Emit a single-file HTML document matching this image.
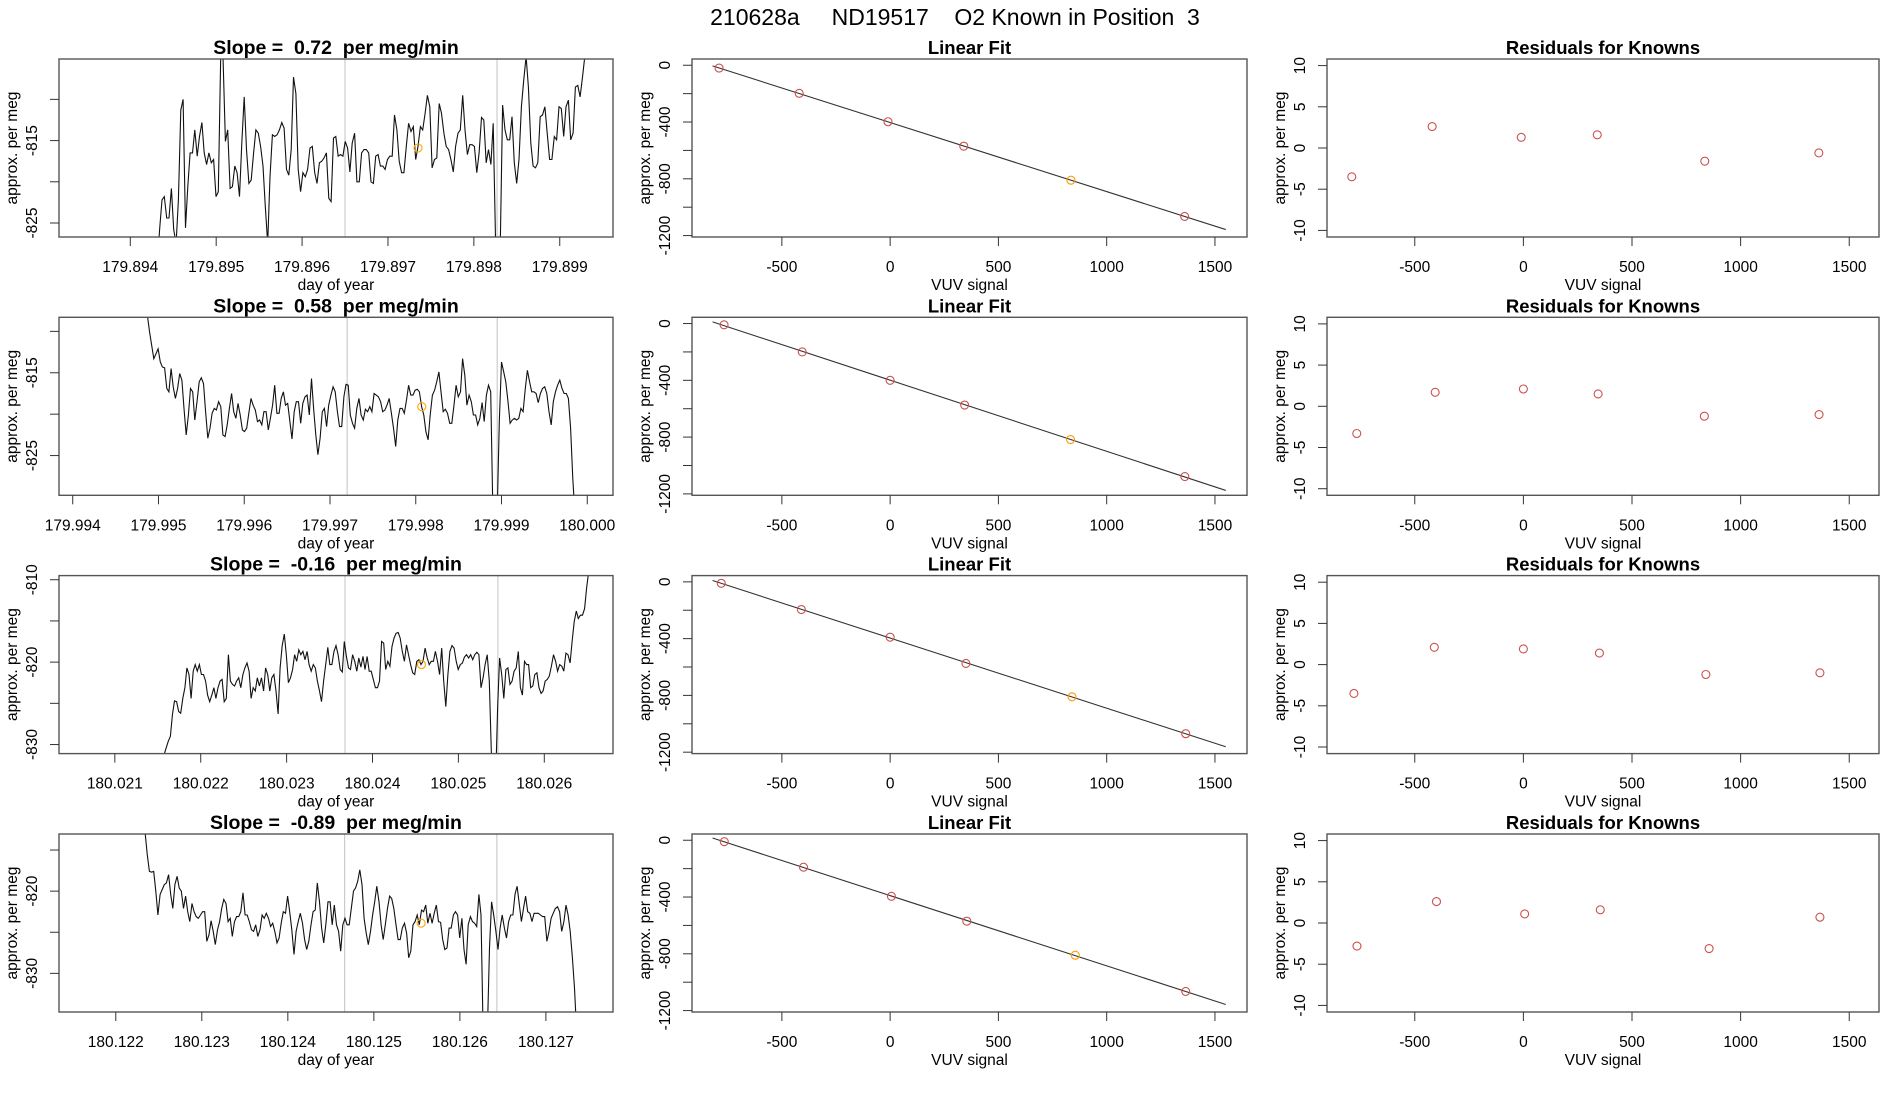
<!DOCTYPE html>
<html><head><meta charset="utf-8"><style>
html,body{margin:0;padding:0;background:#fff;}
svg{display:block;font-family:"Liberation Sans",Arial,sans-serif;}
</style></head><body>
<svg id="fig" width="1900" height="1100" viewBox="0 0 1900 1100" xmlns="http://www.w3.org/2000/svg">
<rect x="0" y="0" width="1900" height="1100" fill="#fff"/>
<text x="955" y="25" font-size="23" text-anchor="middle" style="white-space:pre" xml:space="preserve">210628a     ND19517    O2 Known in Position  3</text>
</svg>
<script>
// ---- time-series data (per meg), one array per row ----
const series1Values=[-830,-825.8,-822.2,-821.8,-824.4,-824.4,-820.8,-825.8,-827.5,-822.2,-811.3,-810.0,-825.6,-820.6,-816.5,-816.5,-813.7,-816.9,-814.5,-812.8,-816.5,-817.9,-816.5,-817.7,-817.3,-821.8,-821.2,-804.8,-804.8,-815.1,-813.7,-820.8,-820.6,-818.1,-818.9,-821.8,-815.3,-809.7,-816.1,-820.2,-819.8,-816.5,-813.7,-814.1,-815.7,-818.1,-823.0,-827.5,-819.4,-814.3,-814.5,-814.3,-813.7,-812.8,-813.5,-818.5,-819.2,-816.1,-807.3,-809.3,-818.5,-821.2,-818.9,-819.4,-818.5,-815.9,-815.7,-818.9,-820.2,-817.7,-817.5,-817.1,-816.5,-822.0,-822.4,-814.7,-814.5,-816.9,-816.7,-816.9,-815.1,-815.9,-818.8,-815.3,-814.1,-820.0,-820.0,-816.5,-816.1,-816.1,-816.5,-820.0,-820.2,-816.9,-816.7,-818.1,-818.1,-818.5,-817.3,-816.9,-816.9,-811.9,-813.7,-817.5,-818.9,-818.9,-815.7,-812.9,-813.9,-813.3,-817.3,-815.7,-813.3,-813.7,-811.7,-809.5,-810.9,-818.3,-817.3,-817.1,-810.5,-811.7,-814.1,-815.7,-816.1,-817.3,-818.8,-815.7,-814.1,-813.7,-809.5,-813.7,-816.7,-815.5,-815.5,-815.7,-818.9,-816.5,-812.2,-812.5,-817.7,-816.1,-817.9,-812.9,-827.5,-827.5,-827.5,-810.7,-813.7,-814.9,-814.9,-812.1,-817.7,-820.2,-817.3,-810.9,-807.7,-804.8,-808.5,-815.3,-818.1,-818.3,-817.7,-812.1,-811.9,-810.9,-814.1,-817.3,-817.3,-814.5,-814.9,-810.9,-811.1,-814.5,-810.9,-810.1,-814.9,-814.1,-808.5,-808.3,-809.7,-807.3,-804.8];
const series2Values=[-808.0,-810.0,-811.7,-813.3,-812.7,-812.1,-813.7,-814.3,-814.4,-816.9,-817.3,-814.5,-816.7,-818.1,-816.9,-815.1,-815.9,-819.3,-822.5,-820.1,-816.9,-817.3,-820.7,-818.5,-816.1,-815.6,-816.3,-819.7,-822.9,-821.7,-819.9,-819.3,-819.5,-818.5,-819.1,-822.5,-822.7,-821.3,-819.3,-817.5,-819.7,-820.5,-818.7,-820.1,-821.9,-822.1,-821.7,-819.9,-818.1,-818.9,-819.5,-820.9,-820.7,-821.3,-819.7,-819.7,-821.9,-820.5,-818.9,-816.5,-819.9,-819.9,-818.1,-817.3,-818.9,-818.7,-820.9,-823.0,-819.7,-818.5,-818.5,-821.1,-818.7,-817.9,-817.7,-820.1,-815.7,-819.3,-822.5,-824.9,-822.9,-819.7,-819.3,-821.5,-818.9,-817.7,-816.7,-817.3,-819.7,-821.5,-821.5,-817.9,-816.4,-816.5,-820.1,-821.1,-821.7,-819.3,-818.1,-820.1,-820.7,-819.4,-819.7,-819.1,-819.7,-817.5,-817.7,-817.9,-818.5,-819.7,-819.5,-818.9,-818.1,-819.9,-821.7,-823.9,-820.7,-819.3,-819.3,-819.9,-818.3,-816.5,-817.7,-817.7,-817.1,-817.0,-817.3,-819.1,-820.1,-822.1,-823.1,-820.1,-817.7,-817.1,-816.1,-814.9,-817.3,-819.7,-819.4,-819.9,-821.1,-821.1,-818.9,-816.5,-817.9,-817.3,-813.3,-815.3,-818.9,-817.7,-818.5,-820.1,-820.1,-821.3,-820.5,-818.6,-820.9,-817.7,-816.5,-817.3,-832,-832,-832,-820.9,-813.7,-814.9,-816.1,-818.5,-821.1,-820.7,-820.5,-820.7,-820.5,-819.3,-819.7,-816.9,-814.7,-816.1,-817.3,-817.3,-817.5,-818.6,-817.5,-816.9,-816.7,-817.5,-819.7,-821.3,-818.5,-817.3,-816.5,-815.9,-816.9,-817.5,-817.5,-818.1,-821.7,-827.8,-832];
const series3Values=[-835.2,-833.2,-832.4,-831.2,-830.4,-829.6,-829.0,-826.4,-824.7,-824.8,-826.0,-826.2,-824.4,-823.1,-820.7,-821.5,-824.4,-821.1,-820.3,-821.1,-820.3,-821.5,-821.5,-822.3,-824.0,-824.8,-824.0,-823.1,-824.4,-823.1,-822.3,-822.1,-824.8,-824.4,-819.1,-822.3,-822.7,-822.9,-822.3,-821.9,-823.1,-821.5,-820.7,-820.1,-821.1,-824.4,-823.1,-823.5,-821.9,-822.9,-821.9,-823.5,-820.7,-821.5,-823.5,-821.9,-821.5,-823.5,-826.3,-820.7,-818.0,-816.6,-819.1,-822.5,-821.9,-820.9,-819.1,-819.9,-818.5,-819.1,-818.7,-819.7,-818.7,-820.3,-821.1,-820.3,-820.7,-822.3,-823.5,-824.8,-822.3,-820.3,-818.2,-820.3,-820.3,-818.7,-818.0,-819.1,-820.9,-821.2,-817.5,-819.3,-820.7,-820.9,-819.1,-819.9,-821.1,-819.5,-820.6,-819.3,-820.9,-819.3,-821.1,-821.1,-822.1,-823.1,-823.1,-822.3,-817.5,-817.7,-820.9,-819.9,-820.5,-818.1,-817.1,-816.5,-816.4,-817.1,-818.7,-819.9,-817.9,-819.1,-820.3,-821.3,-821.5,-819.9,-819.7,-820.3,-819.9,-818.3,-819.5,-820.3,-819.9,-819.9,-818.7,-819.9,-821.5,-818.3,-822.3,-825.4,-821.5,-818.7,-818.0,-818.3,-819.9,-820.9,-820.3,-820.1,-819.4,-819.1,-819.5,-819.1,-819.7,-819.1,-818.8,-819.1,-823.1,-821.9,-820.3,-819.1,-822.3,-831.2,-835.2,-835.2,-825.6,-819.5,-821.5,-824.4,-820.9,-820.7,-822.7,-822.3,-821.1,-820.7,-818.7,-823.1,-824.0,-819.9,-820.3,-820.3,-823.1,-822.9,-821.5,-821.3,-823.1,-823.8,-823.5,-822.3,-822.1,-821.7,-820.5,-819.1,-819.9,-821.1,-820.3,-820.5,-821.1,-818.9,-819.1,-820.1,-817.5,-815.1,-813.8,-814.7,-814.3,-814.3,-813.5,-811.0,-809.0];
const series4Values=[-813.0,-815.6,-817.6,-817.7,-817.6,-820.0,-822.9,-820.4,-819.8,-819.2,-819.0,-818.0,-820.4,-822.1,-819.2,-818.2,-819.6,-820.0,-822.1,-820.6,-822.5,-823.7,-821.5,-822.5,-823.1,-823.3,-822.9,-822.5,-822.5,-826.1,-825.3,-823.6,-824.9,-826.5,-824.7,-823.7,-822.1,-821.0,-821.5,-823.7,-823.3,-825.5,-823.7,-823.1,-823.1,-822.5,-820.2,-822.9,-822.9,-823.7,-824.7,-824.9,-824.1,-825.5,-824.7,-822.9,-823.3,-822.7,-823.3,-824.3,-823.9,-824.9,-826.3,-825.7,-823.9,-822.5,-822.7,-820.6,-822.5,-824.7,-827.7,-824.9,-823.7,-822.7,-823.9,-825.9,-827.1,-826.1,-824.1,-822.5,-822.3,-819.0,-821.3,-824.5,-826.3,-824.1,-821.3,-821.3,-824.1,-821.7,-824.1,-824.9,-827.3,-824.1,-823.3,-824.1,-824.1,-822.1,-820.0,-819.6,-818.8,-817.4,-819.2,-823.3,-825.1,-826.5,-824.9,-822.9,-821.3,-819.4,-821.3,-824.1,-825.9,-824.1,-822.1,-820.6,-820.9,-822.1,-824.1,-825.9,-825.9,-824.5,-823.9,-825.1,-828.1,-827.3,-824.1,-823.7,-822.9,-824.1,-822.3,-822.5,-821.7,-823.9,-822.7,-823.9,-822.7,-821.7,-823.7,-823.8,-825.9,-827.1,-826.9,-824.5,-824.5,-822.9,-822.5,-822.9,-825.7,-823.3,-827.1,-828.9,-824.1,-823.1,-823.7,-823.9,-824.3,-820.4,-822.9,-837,-837,-837,-826.9,-821.3,-822.9,-824.9,-827.1,-824.5,-822.9,-824.5,-825.7,-823.7,-822.9,-822.9,-820.4,-819.4,-821.5,-823.7,-822.1,-820.6,-822.5,-822.7,-823.7,-822.7,-822.7,-822.7,-822.9,-823.1,-823.1,-826.1,-824.9,-823.3,-822.7,-822.1,-821.9,-822.5,-824.9,-823.7,-821.7,-822.9,-824.9,-828.1,-831.8,-837];
// time spans (day of year) of each series
const seriesStart=[179.894314,179.994870,180.021502,180.122342];
const seriesEnd=[179.899292,179.999856,180.026517,180.127357];
const slopeValues=["0.72","0.58","-0.16","-0.89"];
const injectionTimes=[[179.8965,179.89827],[179.9972,179.99895],[180.02368,180.02546],[180.12466,180.12643]];
const knownTime=[179.89735,179.99807,180.02457,180.12555];
const knownValue=[-815.9,-819.1,-820.3,-823.9];
const xTickLabels=[["179.894","179.895","179.896","179.897","179.898","179.899"],["179.994","179.995","179.996","179.997","179.998","179.999","180.000"],["180.021","180.022","180.023","180.024","180.025","180.026"],["180.122","180.123","180.124","180.125","180.126","180.127"]];
const yTicksTS=[[-810,-815,-820,-825],[-810,-815,-820,-825],[-810,-815,-820,-825,-830],[-815,-820,-825,-830]];
const yLabelsTS=[[-815,-825],[-815,-825],[-810,-820,-830],[-820,-830]];
// ---- linear fit / residual data ----
const vuvSignal=[[-790,-420,-10,340,835,1360],[-767,-406,0,344,833,1361],[-780,-410,0,350,840,1365],[-766,-400,6,354,855,1365]];
const fitPerMeg=[[-20,-198,-398,-570,-810,-1065],[-9,-200,-400,-574,-817,-1078],[-10,-195,-390,-575,-810,-1070],[-10,-190,-395,-570,-810,-1065]];
const residuals=[[-3.5,2.6,1.3,1.6,-1.6,-0.6],[-3.3,1.7,2.1,1.5,-1.2,-1.0],[-3.5,2.1,1.9,1.4,-1.2,-1.0],[-2.8,2.6,1.1,1.6,-3.1,0.7]];
const vuvTicks=[-500,0,500,1000,1500];
const fitYTicks=[0,-200,-400,-600,-800,-1000,-1200];
const fitYLabels=[0,-400,-800,-1200];
const residTicks=[10,5,0,-5,-10];
const knownIndex=4;

const allSeries=[series1Values,series2Values,series3Values,series4Values];
const svg=document.getElementById('fig');
const NS='http://www.w3.org/2000/svg';
const rowTops=[59,317.3,575.6,834];
const H=178;
const cols=[[59,613],[692,1247],[1327,1879]];
const tsXDom=[[179.89317,179.89962],[179.99384,180.0003],[180.02035,180.0268],[180.12134,180.12778]];
const tsYDom=[[-826.7,-805.1],[-829.8,-808.3],[-831.1,-809.5],[-834.7,-813.05]];
const fitXDom=[-915,1648], fitYDom=[-1210,44];
const resXDom=[-904,1637], resYDom=[-10.8,10.8];

function mk(tag,attrs,parent){const e=document.createElementNS(NS,tag);for(const k in attrs)e.setAttribute(k,attrs[k]);(parent||svg).appendChild(e);return e;}
function scale(d0,d1,r0,r1){return v=>r0+(v-d0)/(d1-d0)*(r1-r0);}
function txt(x,y,s,size,extra,parent){const t=mk('text',Object.assign({x:x,y:y,'font-size':size,'text-anchor':'middle'},extra||{}),parent);t.textContent=s;return t;}

function frame(g,L,R,T,name){
  const r=mk('rect',{x:L,y:T,width:R-L,height:H,fill:'none',stroke:'#555','stroke-width':1.4},g);
  
  
}
function xAxis(g,L,T,ticks,labels,sx,label,name){
  const B=T+H;
  ticks.forEach((v,i)=>{
    const x=sx(v);
    const tk=mk('line',{x1:x,x2:x,y1:B,y2:B+9,stroke:'#333','stroke-width':1},g);
    
    
    const t=txt(x,B+35,labels[i],15.5,{},g);
    
    
  });
  const t=txt((cols[0][0]+cols[0][1])/2,B+53,label,15.5,{},g);
  return t;
}
function yAxis(g,L,T,ticks,labels,sy,name){
  ticks.forEach(v=>{
    const y=sy(v);
    const tk=mk('line',{x1:L-9,x2:L,y1:y,y2:y,stroke:'#333','stroke-width':1},g);
    
    
  });
  labels.forEach(v=>{
    const y=sy(v);
    const t=txt(0,0,String(v),15.5,{transform:'translate('+(L-22)+','+y+') rotate(-90)'},g);
    
    
  });
  const yl=txt(0,0,'approx. per meg',15.5,{transform:'translate('+(L-42)+','+(T+H/2)+') rotate(-90)'},g);
  
  
}

for(let r=0;r<4;r++){
  const T=rowTops[r];
  {
    const [L,R]=cols[0];
    const g=mk('g',{});
    
    
    const sx=scale(tsXDom[r][0],tsXDom[r][1],L,R);
    const sy=scale(tsYDom[r][0],tsYDom[r][1],T+H,T);
    const cp=mk('clipPath',{id:'clip'+r},g);
    mk('rect',{x:L,y:T,width:R-L,height:H},cp);
    injectionTimes[r].forEach(t=>{
      const l=mk('line',{x1:sx(t),x2:sx(t),y1:T,y2:T+H,stroke:'#cccccc','stroke-width':1.2},g);
      
      
    });
    const vals=allSeries[r];
    const n=vals.length;
    const pts=vals.map((v,i)=>{const t=seriesStart[r]+(seriesEnd[r]-seriesStart[r])*i/(n-1);return sx(t).toFixed(1)+','+sy(v).toFixed(1);});
    const pl=mk('polyline',{points:pts.join(' '),fill:'none',stroke:'#111','stroke-width':1.1,'clip-path':'url(#clip'+r+')'},g);
    
    
    const c=mk('circle',{cx:sx(knownTime[r]),cy:sy(knownValue[r]),r:4,fill:'none',stroke:'#FFA500','stroke-width':1.1},g);
    
    
    frame(g,L,R,T,'time-series');
    const xt=xTickLabels[r].map(s=>parseFloat(s));
    const xl=xAxis(g,L,T,xt,xTickLabels[r],sx,'day of year','time-series');
    xl.setAttribute('x',(L+R)/2);
    
    
    yAxis(g,L,T,yTicksTS[r],yLabelsTS[r],sy,'time-series');
    const tt=txt((L+R)/2,T-5,'Slope =  '+slopeValues[r]+'  per meg/min',19.5,{'font-weight':'bold',style:'white-space:pre'},g);
    
    
  }
  {
    const [L,R]=cols[1];
    const g=mk('g',{});
    
    
    const sx=scale(fitXDom[0],fitXDom[1],L,R);
    const sy=scale(fitYDom[0],fitYDom[1],T+H,T);
    const xs=vuvSignal[r], ys=fitPerMeg[r];
    const n=xs.length;
    const mx=xs.reduce((a,b)=>a+b,0)/n, my=ys.reduce((a,b)=>a+b,0)/n;
    let sxy=0,sxx=0;for(let i=0;i<n;i++){sxy+=(xs[i]-mx)*(ys[i]-my);sxx+=(xs[i]-mx)**2;}
    const b=sxy/sxx, a=my-b*mx;
    const fx0=-820, fx1=1550;
    const ln=mk('line',{x1:sx(fx0),y1:sy(a+b*fx0),x2:sx(fx1),y2:sy(a+b*fx1),stroke:'#333','stroke-width':1.1},g);
    
    
    for(let i=0;i<n;i++){
      const c=mk('circle',{cx:sx(xs[i]),cy:sy(ys[i]),r:4,fill:'none',stroke:i===knownIndex?'#FF9900':'#CD4F4F','stroke-width':1.1},g);
      
      
    }
    frame(g,L,R,T,'linear-fit');
    const xl=xAxis(g,L,T,vuvTicks,vuvTicks.map(String),sx,'VUV signal','linear-fit');
    xl.setAttribute('x',(L+R)/2);
    
    
    yAxis(g,L,T,fitYTicks,fitYLabels,sy,'linear-fit');
    const tt=txt((L+R)/2,T-5,'Linear Fit',18.5,{'font-weight':'bold'},g);
    
    
  }
  {
    const [L,R]=cols[2];
    const g=mk('g',{});
    
    
    const sx=scale(resXDom[0],resXDom[1],L,R);
    const sy=scale(resYDom[0],resYDom[1],T+H,T);
    const xs=vuvSignal[r], ys=residuals[r];
    for(let i=0;i<xs.length;i++){
      const c=mk('circle',{cx:sx(xs[i]),cy:sy(ys[i]),r:4,fill:'none',stroke:'#CD4F4F','stroke-width':1.1},g);
      
      
    }
    frame(g,L,R,T,'residuals');
    const xl=xAxis(g,L,T,vuvTicks,vuvTicks.map(String),sx,'VUV signal','residuals');
    xl.setAttribute('x',(L+R)/2);
    
    
    yAxis(g,L,T,residTicks,residTicks,sy,'residuals');
    const tt=txt((L+R)/2,T-5,'Residuals for Knowns',18.5,{'font-weight':'bold'},g);
    
    
  }
}
</script>
</body></html>
